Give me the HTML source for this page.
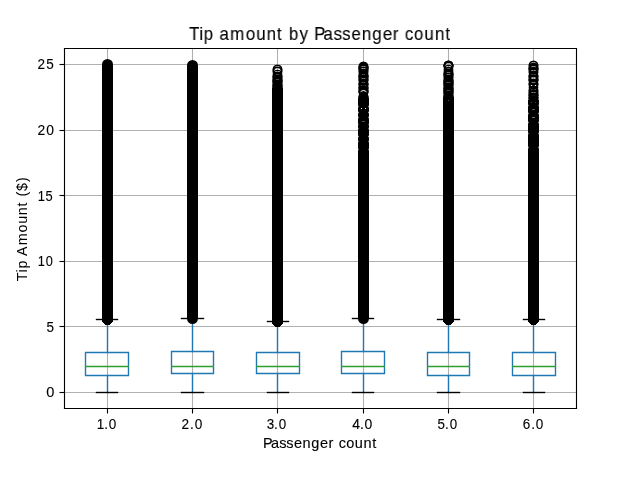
<!DOCTYPE html>
<html lang="en"><head><meta charset="utf-8"><title>Tip amount by Passenger count</title>
<style>
html,body{margin:0;padding:0;background:#fff}
body{width:640px;height:480px;overflow:hidden;position:relative;font-family:"Liberation Sans",sans-serif}
svg{position:absolute;left:0;top:0;display:block;will-change:transform}
.t{filter:opacity(1)}
text{font-family:"Liberation Sans",sans-serif;fill:#000}
</style></head><body>
<svg width="640" height="480" viewBox="0 0 640 480">
<rect width="640" height="480" fill="#fff"/>
<g stroke="#b0b0b0" stroke-width="1.1111" fill="none">
<path d="M107.5 48V409"/>
<path d="M192.5 48V409"/>
<path d="M277.5 48V409"/>
<path d="M363.5 48V409"/>
<path d="M448.5 48V409"/>
<path d="M533.5 48V409"/>
<path d="M64 392.5H577"/>
<path d="M64 326.5H577"/>
<path d="M64 261.5H577"/>
<path d="M64 195.5H577"/>
<path d="M64 130.5H577"/>
<path d="M64 64.5H577"/>
</g>
<g stroke="#000" stroke-width="1.1111" fill="none">
<path d="M107.5 408.5V413.5"/>
<path d="M192.5 408.5V413.5"/>
<path d="M277.5 408.5V413.5"/>
<path d="M363.5 408.5V413.5"/>
<path d="M448.5 408.5V413.5"/>
<path d="M533.5 408.5V413.5"/>
<path d="M64.5 392.5H59.5"/>
<path d="M64.5 326.5H59.5"/>
<path d="M64.5 261.5H59.5"/>
<path d="M64.5 195.5H59.5"/>
<path d="M64.5 130.5H59.5"/>
<path d="M64.5 64.5H59.5"/>
</g>
<g fill="none">
<g stroke="#1f77b4" stroke-width="1.3889" stroke-linecap="square">
<path d="M85.5 375.5H128.5V352.5H85.5V375.5"/>
<path d="M107.5 375.5V392.5"/>
<path d="M107.5 352.5V319.5"/>
</g>
<g stroke="#000" stroke-width="1.3889" stroke-linecap="square">
<path d="M96.5 392.5H117.5"/>
<path d="M96.5 319.5H117.5"/>
</g>
<circle cx="107.5" cy="64.5" r="5.5" fill="#000"/>
<path d="M102 64.5V322h1v1h1v1h1v1h5v-1h1v-1h1v-1h1V64.5z" fill="#000"/>
<g stroke="#1f77b4" stroke-width="1.3889" stroke-linecap="square">
<path d="M171.5 373.5H213.5V351.5H171.5V373.5"/>
<path d="M192.5 373.5V392.5"/>
<path d="M192.5 351.5V318.5"/>
</g>
<g stroke="#000" stroke-width="1.3889" stroke-linecap="square">
<path d="M181.5 392.5H203.5"/>
<path d="M181.5 318.5H203.5"/>
</g>
<circle cx="192.5" cy="65.5" r="5.5" fill="#000"/>
<path d="M187 65.5V318.5A5.5 5.5 0 0 0 198 318.5V65.5z" fill="#000"/>
<g stroke="#1f77b4" stroke-width="1.3889" stroke-linecap="square">
<path d="M256.5 373.5H299.5V352.5H256.5V373.5"/>
<path d="M277.5 373.5V392.5"/>
<path d="M277.5 352.5V321.5"/>
</g>
<g stroke="#000" stroke-width="1.3889" stroke-linecap="square">
<path d="M267.5 392.5H288.5"/>
<path d="M267.5 321.5H288.5"/>
</g>
<g fill="none" stroke="#000" stroke-width="1.3889">
<circle cx="277.5" cy="69.5" r="4.1667"/>
<circle cx="277.5" cy="69.5" r="4.1667"/>
<circle cx="277.5" cy="71.5" r="4.1667"/>
<circle cx="277.5" cy="71.5" r="4.1667"/>
<circle cx="277.5" cy="74.5" r="4.1667"/>
<circle cx="277.5" cy="76.5" r="4.1667"/>
<circle cx="277.5" cy="76.5" r="4.1667"/>
<circle cx="277.5" cy="77.5" r="4.1667"/>
<circle cx="277.5" cy="77.5" r="4.1667"/>
<circle cx="277.5" cy="79.5" r="4.1667"/>
<circle cx="277.5" cy="79.5" r="4.1667"/>
<circle cx="277.5" cy="80.5" r="4.1667"/>
<circle cx="277.5" cy="80.5" r="4.1667"/>
<circle cx="277.5" cy="81.5" r="4.1667"/>
<circle cx="277.5" cy="81.5" r="4.1667"/>
<circle cx="277.5" cy="82.5" r="4.1667"/>
<circle cx="277.5" cy="82.5" r="4.1667"/>
<circle cx="277.5" cy="84.5" r="4.1667"/>
<circle cx="277.5" cy="84.5" r="4.1667"/>
<circle cx="277.5" cy="85.5" r="4.1667"/>
<circle cx="277.5" cy="85.5" r="4.1667"/>
<circle cx="277.5" cy="86.5" r="4.1667"/>
<circle cx="277.5" cy="86.5" r="4.1667"/>
<circle cx="277.5" cy="87.5" r="4.1667"/>
<circle cx="277.5" cy="87.5" r="4.1667"/>
<circle cx="277.5" cy="88.5" r="4.1667"/>
<circle cx="277.5" cy="88.5" r="4.1667"/>
<circle cx="277.5" cy="89.5" r="4.1667"/>
<circle cx="277.5" cy="89.5" r="4.1667"/>
<circle cx="277.5" cy="90.5" r="4.1667"/>
<circle cx="277.5" cy="90.5" r="4.1667"/>
<circle cx="277.5" cy="91.5" r="4.1667"/>
<circle cx="277.5" cy="91.5" r="4.1667"/>
<circle cx="277.5" cy="92.5" r="4.1667"/>
<circle cx="277.5" cy="92.5" r="4.1667"/>
</g>
<path d="M272 88V324h1v1h1v1h1v1h5v-1h1v-1h1v-1h1V88z" fill="#000"/>
<g stroke="#1f77b4" stroke-width="1.3889" stroke-linecap="square">
<path d="M341.5 373.5H384.5V351.5H341.5V373.5"/>
<path d="M363.5 373.5V392.5"/>
<path d="M363.5 351.5V318.5"/>
</g>
<g stroke="#000" stroke-width="1.3889" stroke-linecap="square">
<path d="M352.5 392.5H373.5"/>
<path d="M352.5 318.5H373.5"/>
</g>
<g fill="none" stroke="#000" stroke-width="1.3889">
<circle cx="363.5" cy="66.5" r="4.1667"/>
<circle cx="363.5" cy="66.5" r="4.1667"/>
<circle cx="363.5" cy="67.5" r="4.1667"/>
<circle cx="363.5" cy="67.5" r="4.1667"/>
<circle cx="363.5" cy="68.5" r="4.1667"/>
<circle cx="363.5" cy="68.5" r="4.1667"/>
<circle cx="363.5" cy="69.5" r="4.1667"/>
<circle cx="363.5" cy="69.5" r="4.1667"/>
<circle cx="363.5" cy="71.5" r="4.1667"/>
<circle cx="363.5" cy="71.5" r="4.1667"/>
<circle cx="363.5" cy="73.5" r="4.1667"/>
<circle cx="363.5" cy="75.5" r="4.1667"/>
<circle cx="363.5" cy="75.5" r="4.1667"/>
<circle cx="363.5" cy="76.5" r="4.1667"/>
<circle cx="363.5" cy="76.5" r="4.1667"/>
<circle cx="363.5" cy="77.5" r="4.1667"/>
<circle cx="363.5" cy="77.5" r="4.1667"/>
<circle cx="363.5" cy="79.5" r="4.1667"/>
<circle cx="363.5" cy="79.5" r="4.1667"/>
<circle cx="363.5" cy="80.5" r="4.1667"/>
<circle cx="363.5" cy="80.5" r="4.1667"/>
<circle cx="363.5" cy="83.5" r="4.1667"/>
<circle cx="363.5" cy="83.5" r="4.1667"/>
<circle cx="363.5" cy="84.5" r="4.1667"/>
<circle cx="363.5" cy="84.5" r="4.1667"/>
<circle cx="363.5" cy="85.5" r="4.1667"/>
<circle cx="363.5" cy="87.5" r="4.1667"/>
<circle cx="363.5" cy="87.5" r="4.1667"/>
<circle cx="363.5" cy="88.5" r="4.1667"/>
<circle cx="363.5" cy="88.5" r="4.1667"/>
<circle cx="363.5" cy="90.5" r="4.1667"/>
<circle cx="363.5" cy="90.5" r="4.1667"/>
<circle cx="363.5" cy="91.5" r="4.1667"/>
<circle cx="363.5" cy="91.5" r="4.1667"/>
<circle cx="363.5" cy="92.5" r="4.1667"/>
<circle cx="363.5" cy="92.5" r="4.1667"/>
<circle cx="363.5" cy="96.5" r="4.1667"/>
<circle cx="363.5" cy="96.5" r="4.1667"/>
<circle cx="363.5" cy="97.5" r="4.1667"/>
<circle cx="363.5" cy="97.5" r="4.1667"/>
<circle cx="363.5" cy="98.5" r="4.1667"/>
<circle cx="363.5" cy="98.5" r="4.1667"/>
<circle cx="363.5" cy="99.5" r="4.1667"/>
<circle cx="363.5" cy="99.5" r="4.1667"/>
<circle cx="363.5" cy="100.5" r="4.1667"/>
<circle cx="363.5" cy="100.5" r="4.1667"/>
<circle cx="363.5" cy="101.5" r="4.1667"/>
<circle cx="363.5" cy="101.5" r="4.1667"/>
<circle cx="363.5" cy="102.5" r="4.1667"/>
<circle cx="363.5" cy="102.5" r="4.1667"/>
</g>
<path d="M358 98V318.5A5.5 5.5 0 0 0 369 318.5V98z" fill="#000"/>
<path d="M358 106.5h1M368 106.5h1" stroke="#fff" stroke-opacity="0.5" stroke-width="1.6"/>
<path d="M358 112.5h1M368 112.5h1" stroke="#fff" stroke-opacity="0.6" stroke-width="1.6"/>
<path d="M358 117.5h1M368 117.5h1" stroke="#fff" stroke-opacity="0.5" stroke-width="1.6"/>
<path d="M358 124.5h1M368 124.5h1" stroke="#fff" stroke-opacity="0.3" stroke-width="1.6"/>
<path d="M358 128.5h1M368 128.5h1" stroke="#fff" stroke-opacity="0.4" stroke-width="1.6"/>
<path d="M358 136.5h1M368 136.5h1" stroke="#fff" stroke-opacity="0.6" stroke-width="1.6"/>
<path d="M358 141.5h1M368 141.5h1" stroke="#fff" stroke-opacity="0.4" stroke-width="1.6"/>
<path d="M358 149.5h1M368 149.5h1" stroke="#fff" stroke-opacity="0.4" stroke-width="1.6"/>
<path d="M360.5 91.8Q363.5 89.2 366.5 91.8" fill="none" stroke="#fff" stroke-opacity="0.75" stroke-width="1"/>
<path d="M362 85.5h3" stroke="#000" stroke-opacity="0.75" stroke-width="1"/>
<rect x="361" y="108" width="1" height="1" fill="#fff" fill-opacity="0.95"/>
<rect x="365" y="108" width="1" height="1" fill="#fff" fill-opacity="0.95"/>
<rect x="362" y="121" width="1" height="1" fill="#fff" fill-opacity="0.3"/>
<rect x="363" y="121" width="1" height="1" fill="#fff" fill-opacity="0.35"/>
<rect x="364" y="121" width="1" height="1" fill="#fff" fill-opacity="0.3"/>
<g stroke="#1f77b4" stroke-width="1.3889" stroke-linecap="square">
<path d="M427.5 375.5H469.5V352.5H427.5V375.5"/>
<path d="M448.5 375.5V392.5"/>
<path d="M448.5 352.5V319.5"/>
</g>
<g stroke="#000" stroke-width="1.3889" stroke-linecap="square">
<path d="M437.5 392.5H459.5"/>
<path d="M437.5 319.5H459.5"/>
</g>
<g fill="none" stroke="#000" stroke-width="1.3889">
<circle cx="448.5" cy="65.5" r="4.1667"/>
<circle cx="448.5" cy="65.5" r="4.1667"/>
<circle cx="448.5" cy="65.5" r="4.1667"/>
<circle cx="448.5" cy="65.5" r="4.1667"/>
<circle cx="448.5" cy="66.5" r="4.1667"/>
<circle cx="448.5" cy="66.5" r="4.1667"/>
<circle cx="448.5" cy="69.5" r="4.1667"/>
<circle cx="448.5" cy="71.5" r="4.1667"/>
<circle cx="448.5" cy="73.5" r="4.1667"/>
<circle cx="448.5" cy="73.5" r="4.1667"/>
<circle cx="448.5" cy="74.5" r="4.1667"/>
<circle cx="448.5" cy="74.5" r="4.1667"/>
<circle cx="448.5" cy="75.5" r="4.1667"/>
<circle cx="448.5" cy="75.5" r="4.1667"/>
<circle cx="448.5" cy="77.5" r="4.1667"/>
<circle cx="448.5" cy="77.5" r="4.1667"/>
<circle cx="448.5" cy="79.5" r="4.1667"/>
<circle cx="448.5" cy="80.5" r="4.1667"/>
<circle cx="448.5" cy="80.5" r="4.1667"/>
<circle cx="448.5" cy="81.5" r="4.1667"/>
<circle cx="448.5" cy="81.5" r="4.1667"/>
<circle cx="448.5" cy="82.5" r="4.1667"/>
<circle cx="448.5" cy="82.5" r="4.1667"/>
<circle cx="448.5" cy="83.5" r="4.1667"/>
<circle cx="448.5" cy="83.5" r="4.1667"/>
<circle cx="448.5" cy="84.5" r="4.1667"/>
<circle cx="448.5" cy="84.5" r="4.1667"/>
<circle cx="448.5" cy="85.5" r="4.1667"/>
<circle cx="448.5" cy="85.5" r="4.1667"/>
<circle cx="448.5" cy="87.5" r="4.1667"/>
<circle cx="448.5" cy="87.5" r="4.1667"/>
<circle cx="448.5" cy="88.5" r="4.1667"/>
<circle cx="448.5" cy="88.5" r="4.1667"/>
<circle cx="448.5" cy="89.5" r="4.1667"/>
<circle cx="448.5" cy="89.5" r="4.1667"/>
<circle cx="448.5" cy="90.5" r="4.1667"/>
<circle cx="448.5" cy="90.5" r="4.1667"/>
<circle cx="448.5" cy="91.5" r="4.1667"/>
<circle cx="448.5" cy="91.5" r="4.1667"/>
<circle cx="448.5" cy="92.5" r="4.1667"/>
<circle cx="448.5" cy="92.5" r="4.1667"/>
<circle cx="448.5" cy="93.5" r="4.1667"/>
<circle cx="448.5" cy="93.5" r="4.1667"/>
<circle cx="448.5" cy="95.5" r="4.1667"/>
<circle cx="448.5" cy="95.5" r="4.1667"/>
<circle cx="448.5" cy="96.5" r="4.1667"/>
<circle cx="448.5" cy="96.5" r="4.1667"/>
<circle cx="448.5" cy="97.5" r="4.1667"/>
<circle cx="448.5" cy="97.5" r="4.1667"/>
<circle cx="448.5" cy="98.5" r="4.1667"/>
<circle cx="448.5" cy="98.5" r="4.1667"/>
<circle cx="448.5" cy="99.5" r="4.1667"/>
<circle cx="448.5" cy="99.5" r="4.1667"/>
<circle cx="448.5" cy="100.5" r="4.1667"/>
<circle cx="448.5" cy="100.5" r="4.1667"/>
<circle cx="448.5" cy="101.5" r="4.1667"/>
<circle cx="448.5" cy="101.5" r="4.1667"/>
</g>
<path d="M443 97V322h1v1h1v1h1v1h5v-1h1v-1h1v-1h1V97z" fill="#000"/>
<rect x="448" y="100" width="1" height="1" fill="#fff" fill-opacity="0.3"/>
<g stroke="#1f77b4" stroke-width="1.3889" stroke-linecap="square">
<path d="M512.5 375.5H555.5V352.5H512.5V375.5"/>
<path d="M533.5 375.5V392.5"/>
<path d="M533.5 352.5V319.5"/>
</g>
<g stroke="#000" stroke-width="1.3889" stroke-linecap="square">
<path d="M523.5 392.5H544.5"/>
<path d="M523.5 319.5H544.5"/>
</g>
<g fill="none" stroke="#000" stroke-width="1.3889">
<circle cx="533.5" cy="65.5" r="4.1667"/>
<circle cx="533.5" cy="65.5" r="4.1667"/>
<circle cx="533.5" cy="67.5" r="4.1667"/>
<circle cx="533.5" cy="68.5" r="4.1667"/>
<circle cx="533.5" cy="68.5" r="4.1667"/>
<circle cx="533.5" cy="69.5" r="4.1667"/>
<circle cx="533.5" cy="69.5" r="4.1667"/>
<circle cx="533.5" cy="71.5" r="4.1667"/>
<circle cx="533.5" cy="72.5" r="4.1667"/>
<circle cx="533.5" cy="75.5" r="4.1667"/>
<circle cx="533.5" cy="76.5" r="4.1667"/>
<circle cx="533.5" cy="76.5" r="4.1667"/>
<circle cx="533.5" cy="77.5" r="4.1667"/>
<circle cx="533.5" cy="79.5" r="4.1667"/>
<circle cx="533.5" cy="79.5" r="4.1667"/>
<circle cx="533.5" cy="80.5" r="4.1667"/>
<circle cx="533.5" cy="80.5" r="4.1667"/>
<circle cx="533.5" cy="83.5" r="4.1667"/>
<circle cx="533.5" cy="84.5" r="4.1667"/>
<circle cx="533.5" cy="84.5" r="4.1667"/>
<circle cx="533.5" cy="87.5" r="4.1667"/>
<circle cx="533.5" cy="90.5" r="4.1667"/>
<circle cx="533.5" cy="90.5" r="4.1667"/>
<circle cx="533.5" cy="92.5" r="4.1667"/>
<circle cx="533.5" cy="92.5" r="4.1667"/>
<circle cx="533.5" cy="94.5" r="4.1667"/>
<circle cx="533.5" cy="94.5" r="4.1667"/>
<circle cx="533.5" cy="95.5" r="4.1667"/>
<circle cx="533.5" cy="95.5" r="4.1667"/>
<circle cx="533.5" cy="97.5" r="4.1667"/>
<circle cx="533.5" cy="97.5" r="4.1667"/>
<circle cx="533.5" cy="98.5" r="4.1667"/>
<circle cx="533.5" cy="98.5" r="4.1667"/>
<circle cx="533.5" cy="100.5" r="4.1667"/>
<circle cx="533.5" cy="100.5" r="4.1667"/>
<circle cx="533.5" cy="101.5" r="4.1667"/>
<circle cx="533.5" cy="101.5" r="4.1667"/>
<circle cx="533.5" cy="102.5" r="4.1667"/>
<circle cx="533.5" cy="102.5" r="4.1667"/>
<circle cx="533.5" cy="103.5" r="4.1667"/>
<circle cx="533.5" cy="103.5" r="4.1667"/>
<circle cx="533.5" cy="104.5" r="4.1667"/>
<circle cx="533.5" cy="104.5" r="4.1667"/>
</g>
<path d="M528 100V322h1v1h1v1h1v1h5v-1h1v-1h1v-1h1V100z" fill="#000"/>
<path d="M528 105.5h1M538 105.5h1" stroke="#fff" stroke-opacity="0.4" stroke-width="1.6"/>
<path d="M528 113.5h1M538 113.5h1" stroke="#fff" stroke-opacity="0.5" stroke-width="1.6"/>
<path d="M528 122.5h1M538 122.5h1" stroke="#fff" stroke-opacity="0.5" stroke-width="1.6"/>
<path d="M528 133.5h1M538 133.5h1" stroke="#fff" stroke-opacity="0.4" stroke-width="1.6"/>
<path d="M528 147.5h1M538 147.5h1" stroke="#fff" stroke-opacity="0.5" stroke-width="1.6"/>
<path d="M532 74.5h3" stroke="#000" stroke-opacity="0.5" stroke-width="1"/>
<path d="M532 85.5h3" stroke="#000" stroke-opacity="0.75" stroke-width="1"/>
<path d="M532 89.5h3" stroke="#000" stroke-opacity="0.75" stroke-width="1"/>
<path d="M532 95.5h3" stroke="#000" stroke-opacity="0.8" stroke-width="1"/>
<rect x="531" y="102" width="1" height="1" fill="#fff" fill-opacity="0.25"/>
<rect x="535" y="102" width="1" height="1" fill="#fff" fill-opacity="0.25"/>
<rect x="532" y="109" width="1" height="1" fill="#fff" fill-opacity="0.3"/>
<rect x="533" y="109" width="1" height="1" fill="#fff" fill-opacity="0.4"/>
<rect x="534" y="109" width="1" height="1" fill="#fff" fill-opacity="0.3"/>
<rect x="532" y="117" width="1" height="1" fill="#fff" fill-opacity="0.4"/>
<rect x="533" y="117" width="1" height="1" fill="#fff" fill-opacity="0.5"/>
<rect x="534" y="117" width="1" height="1" fill="#fff" fill-opacity="0.4"/>
<path d="M85 366.5H129" stroke="#2ca02c" stroke-width="1.3889"/>
<path d="M171 366.5H214" stroke="#2ca02c" stroke-width="1.3889"/>
<path d="M256 366.5H300" stroke="#2ca02c" stroke-width="1.3889"/>
<path d="M341 366.5H385" stroke="#2ca02c" stroke-width="1.3889"/>
<path d="M427 366.5H470" stroke="#2ca02c" stroke-width="1.3889"/>
<path d="M512 366.5H556" stroke="#2ca02c" stroke-width="1.3889"/>
</g>
<g stroke="#000" stroke-width="1.1111" fill="none" stroke-linecap="square">
<path d="M64.5 48.5V408.5"/><path d="M576.5 48.5V408.5"/><path d="M64.5 408.5H576.5"/><path d="M64.5 48.5H576.5"/>
</g>
<g class="t" stroke="#000" stroke-width=".12">
<text transform="translate(0 429) scale(0.9603 1)" font-size="14.1px" x="100.80 108.68 113.23">1.0</text>
<text transform="translate(0 429) scale(0.9657 1)" font-size="14.1px" x="187.92 196.87 201.64">2.0</text>
<text transform="translate(0 429) scale(0.9485 1)" font-size="14.1px" x="281.29 289.01 293.90">3.0</text>
<text transform="translate(0 429) scale(0.9901 1)" font-size="14.1px" x="355.67 363.65 368.25">4.0</text>
<text transform="translate(0 429) scale(0.9485 1)" font-size="14.1px" x="461.28 469.29 474.18">5.0</text>
<text transform="translate(0 429) scale(0.9337 1)" font-size="14.5px" x="559.80 569.10 573.78">6.0</text>
<text transform="translate(0 397) scale(1.0076 1)" font-size="14.5px" x="45.89">0</text>
<text transform="translate(0 332) scale(0.9289 1)" font-size="14.5px" x="50.02">5</text>
<text transform="translate(0 266) scale(0.9033 1)" font-size="14.1px" x="41.80 50.66">10</text>
<text transform="translate(0 201) scale(0.9132 1)" font-size="14.1px" x="41.33 49.75">15</text>
<text transform="translate(0 135) scale(0.9874 1)" font-size="14.1px" x="38.11 46.72">20</text>
<text transform="translate(0 69) scale(0.9609 1)" font-size="14.1px" x="39.01 48.13">25</text>
<text transform="translate(0 447.9) scale(1.0009 1)" font-size="14.5px" x="262.80 270.88 278.93 285.92 293.71 302.18 311.09 319.68 328.17 333.00 338.53 346.07 354.40 363.12 371.84">Passenger count</text>
<text transform="translate(27.2 0) rotate(-90) scale(0.9835 1)" font-size="14.5px" x="-285.91 -277.04 -273.13 -265.07 -260.30 -249.30 -236.36 -227.46 -218.81 -209.87 -205.84 -199.82 -194.13 -185.03" stroke="none">Tip Amount ($)</text>
<text transform="translate(0 40) scale(0.9260 1)" font-size="18.2px" x="204.19 215.29 219.89 230.01 236.98 248.61 265.44 276.80 288.11 298.95 304.01 311.94 323.45 332.55 339.31 349.28 360.25 369.43 379.39 390.70 401.98 413.40 424.14 430.20 437.24 447.13 458.21 469.80 480.91">Tip amount by Passenger count</text>
</g>
</svg>
</body></html>
